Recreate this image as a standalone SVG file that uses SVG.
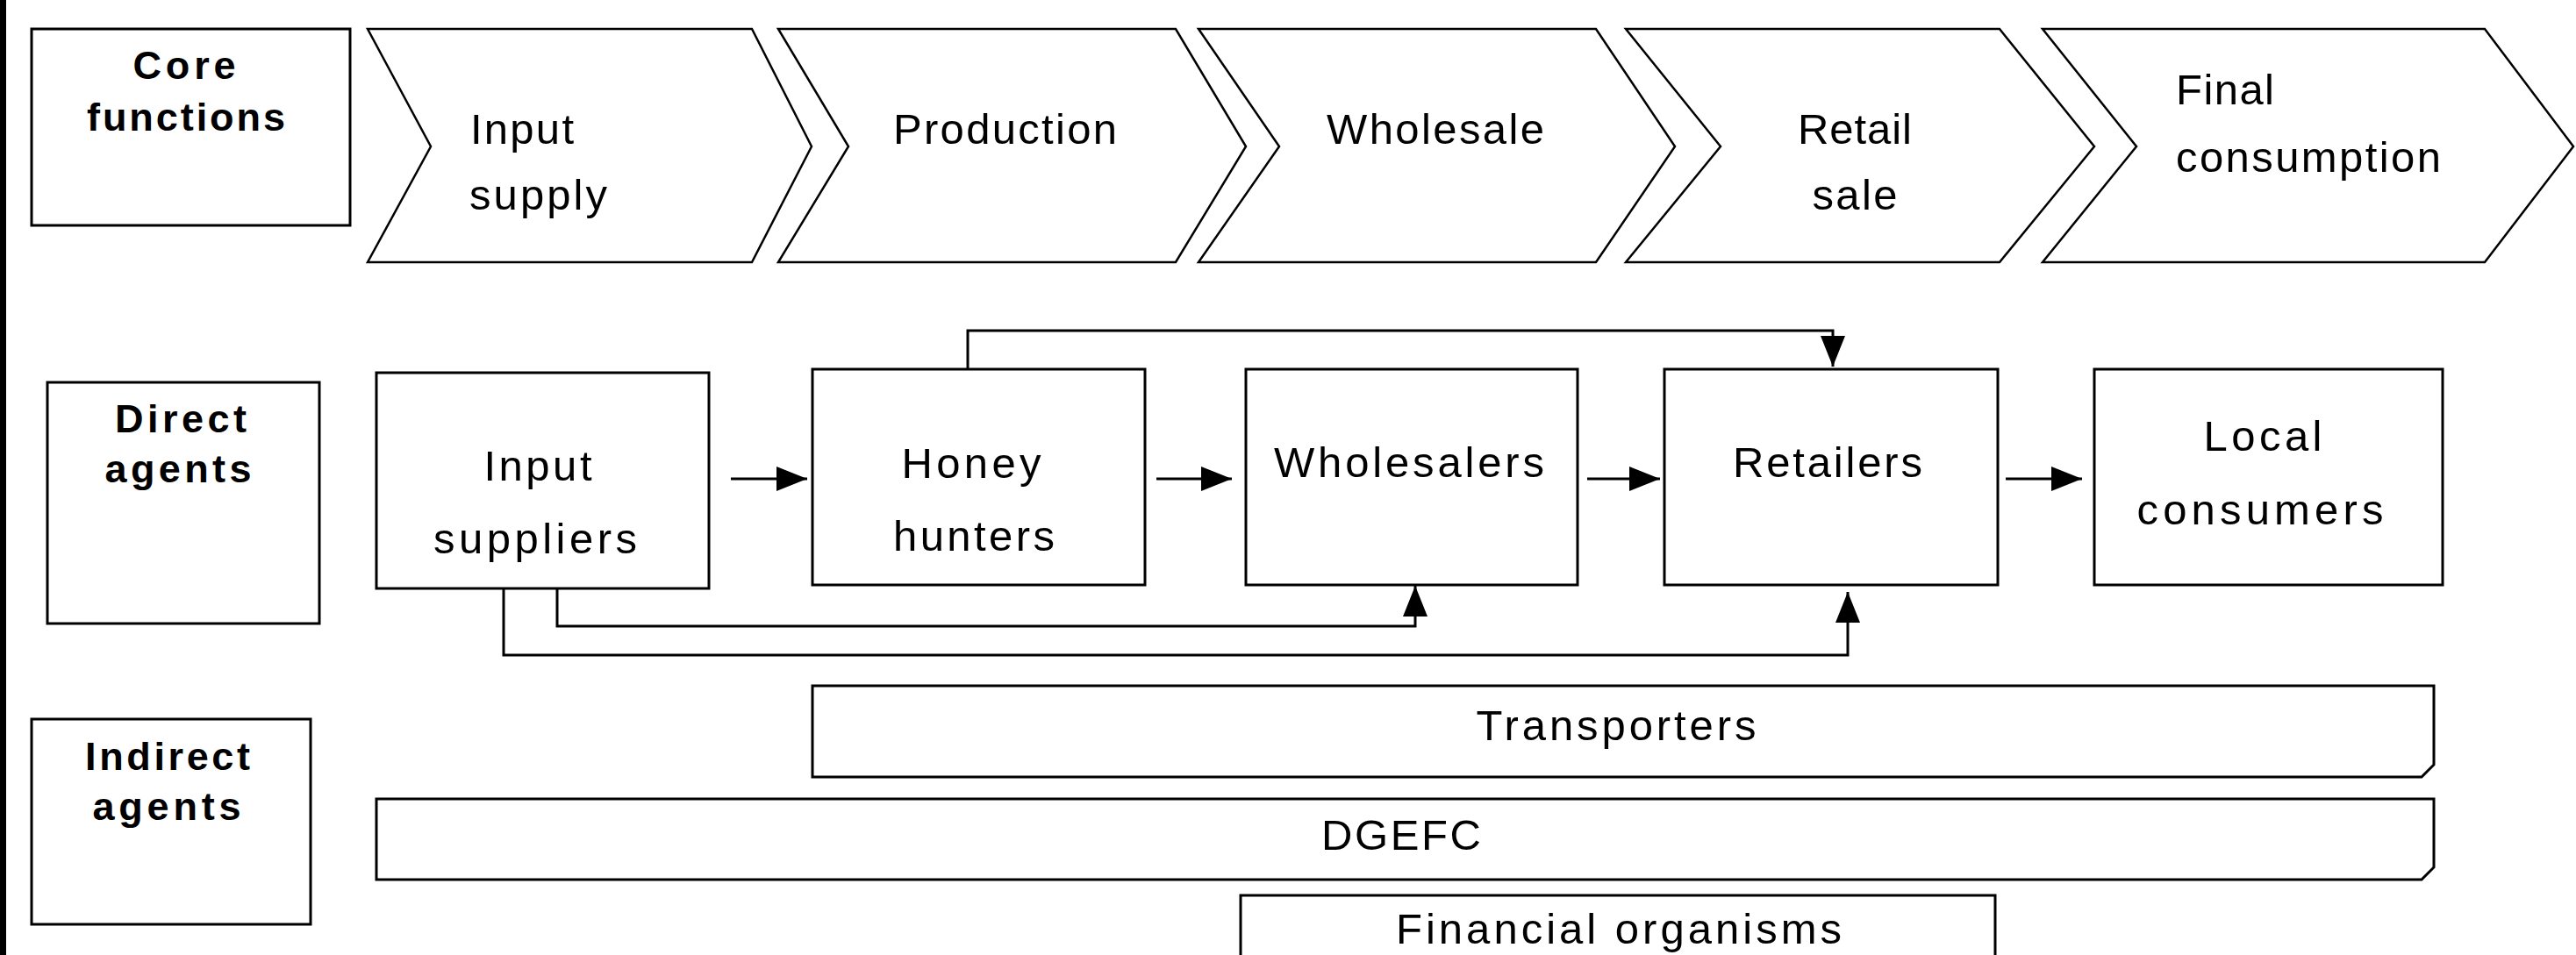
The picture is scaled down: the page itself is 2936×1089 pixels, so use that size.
<svg xmlns="http://www.w3.org/2000/svg" width="2936" height="1089" viewBox="0 0 2936 1089">
<style>
.box{fill:#fff;stroke:#000;stroke-width:3}
.chev{fill:#fff;stroke:#000;stroke-width:2.5;stroke-linejoin:miter}
.t{font-family:"Liberation Sans",Arial,sans-serif;font-size:49px;fill:#000}
.b{font-family:"Liberation Sans",Arial,sans-serif;font-size:45px;font-weight:bold;fill:#000}
.c{text-anchor:middle}
.ln{fill:none;stroke:#000;stroke-width:3}
</style>
<defs>
<marker id="ah" markerUnits="userSpaceOnUse" markerWidth="36" markerHeight="30" refX="35" refY="14" orient="auto">
<path d="M0,0 L35,14 L0,28 Z" fill="#000"/>
</marker>
</defs>
<rect x="0" y="0" width="2936" height="1089" fill="#fff"/>
<rect x="0" y="0" width="7" height="1089" fill="#000"/>

<g id="core-functions">
<rect class="box" x="36" y="33" width="363" height="224"/>
<text class="b c" x="210" y="90" textLength="117">Core</text>
<text class="b c" x="212" y="149" textLength="226">functions</text>
</g>

<g id="input-supply">
<path class="chev" d="M419,33 L857,33 L925,167 L857,299 L419,299 L491,167 Z"/>
<text class="t" x="536" y="164" textLength="118">Input</text>
<text class="t" x="535" y="239" textLength="157">supply</text>
</g>
<g id="production">
<path class="chev" d="M887,33 L1340,33 L1420,167 L1340,299 L887,299 L967,167 Z"/>
<text class="t" x="1018" y="164" textLength="255">Production</text>
</g>
<g id="wholesale">
<path class="chev" d="M1366,33 L1819,33 L1909,167 L1819,299 L1366,299 L1458,167 Z"/>
<text class="t" x="1512" y="164" textLength="248">Wholesale</text>
</g>
<g id="retail-sale">
<path class="chev" d="M1853,33 L2279,33 L2387,167 L2279,299 L1853,299 L1961,167 Z"/>
<text class="t c" x="2114" y="164" textLength="130">Retail</text>
<text class="t c" x="2114" y="239" textLength="97">sale</text>
</g>
<g id="final-consumption">
<path class="chev" d="M2328,33 L2832,33 L2933,167 L2832,299 L2328,299 L2435,167 Z"/>
<text class="t" x="2480" y="119" textLength="112">Final</text>
<text class="t" x="2480" y="196" textLength="302">consumption</text>
</g>

<g id="direct-agents">
<rect class="box" x="54" y="436" width="310" height="275"/>
<text class="b c" x="206" y="493" textLength="150">Direct</text>
<text class="b c" x="203" y="550" textLength="167">agents</text>
</g>
<g id="input-suppliers">
<rect class="box" x="429" y="425" width="379" height="246"/>
<text class="t c" x="613" y="548" textLength="123">Input</text>
<text class="t c" x="610" y="631" textLength="232">suppliers</text>
</g>
<g id="honey-hunters">
<rect class="box" x="926" y="421" width="379" height="246"/>
<text class="t c" x="1107" y="545" textLength="159">Honey</text>
<text class="t c" x="1110" y="628" textLength="184">hunters</text>
</g>
<g id="wholesalers">
<rect class="box" x="1420" y="421" width="378" height="246"/>
<text class="t c" x="1606" y="544" textLength="308">Wholesalers</text>
</g>
<g id="retailers">
<rect class="box" x="1897" y="421" width="380" height="246"/>
<text class="t c" x="2083" y="544" textLength="216">Retailers</text>
</g>
<g id="local-consumers">
<rect class="box" x="2387" y="421" width="397" height="246"/>
<text class="t c" x="2579" y="514" textLength="135">Local</text>
<text class="t c" x="2576" y="598" textLength="281">consumers</text>
</g>

<g id="indirect-agents">
<rect class="box" x="36" y="820" width="318" height="234"/>
<text class="b c" x="191" y="878" textLength="188">Indirect</text>
<text class="b c" x="190" y="935" textLength="169">agents</text>
</g>
<g id="transporters">
<path class="box" d="M926,782 H2774 V872 L2760,886 H926 Z"/>
<text class="t c" x="1842" y="844" textLength="319">Transporters</text>
</g>
<g id="dgefc">
<path class="box" d="M429,911 H2774 V989 L2760,1003 H429 Z"/>
<text class="t c" x="1597" y="969" textLength="182">DGEFC</text>
</g>
<g id="financial-organisms">
<path class="box" d="M1414,1100 V1021 H2274 V1100"/>
<text class="t c" x="1845" y="1076" textLength="508">Financial organisms</text>
</g>

<g id="connectors">
<line class="ln" x1="833" y1="546" x2="920" y2="546" marker-end="url(#ah)"/>
<line class="ln" x1="1318" y1="546" x2="1404" y2="546" marker-end="url(#ah)"/>
<line class="ln" x1="1809" y1="546" x2="1892" y2="546" marker-end="url(#ah)"/>
<line class="ln" x1="2286" y1="546" x2="2373" y2="546" marker-end="url(#ah)"/>
<path class="ln" d="M1103,421 V377 H2089 V418" marker-end="url(#ah)"/>
<path class="ln" d="M635,671 V714 H1613 V668" marker-end="url(#ah)"/>
<path class="ln" d="M574,671 V747 H2106 V675" marker-end="url(#ah)"/>
</g>
</svg>
